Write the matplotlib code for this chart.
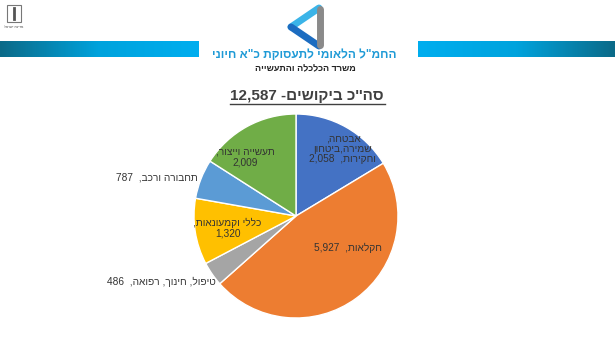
import re
import numpy as np
import matplotlib
matplotlib.use('Agg')
import matplotlib.pyplot as plt

plt.rcParams['font.family'] = ['Liberation Sans', 'DejaVu Sans']

# data
categories = ['אבטחה,\nשמירה,ביטחון\nוחקירות,  ', 'חקלאות,  ', 'טיפול, חינוך, רפואה,  ',
              'כללי וקמעונאות,\n', 'תחבורה ורכב,  ', 'תעשייה וייצור,\n']
values = [2058, 5927, 486, 1320, 787, 2009]
colors = ['#4472C4', '#ED7D31', '#A5A5A5', '#FFC000', '#5B9BD5', '#70AD47']
total = sum(values)
header_title = 'החמ"ל הלאומי לתעסוקת כ"א חיוני'
header_sub = 'משרד הכלכלה והתעשייה'
chart_title = "סה''כ ביקושים- " + format(total, ',')

# label placement (pie radius units) and alignment
label_pos = [(0.46, 0.66), (0.51, -0.31), (-0.79, -0.65), (-0.67, -0.12), (-0.96, 0.38), (-0.50, 0.58)]
label_ha = ['center', 'center', 'right', 'center', 'right', 'center']


def rtl(s):
    # crude visual ordering for hebrew text with numbers
    out = []
    for line in s.split('\n'):
        r = line[::-1]
        r = re.sub(r'[0-9][0-9,.]*[0-9]|[0-9]', lambda m: m.group(0)[::-1], r)
        out.append(r.strip())
    return '\n'.join(out)


W, H = 615, 339
fig = plt.figure(figsize=(W / 100, H / 100), dpi=100)
fig.patch.set_facecolor('white')

# header decoration in pixel coords
bg = fig.add_axes([0, 0, 1, 1])
bg.set_xlim(0, W)
bg.set_ylim(H, 0)
bg.axis('off')
grad = np.linspace(0, 1, 256).reshape(1, -1)
cmap = matplotlib.colors.LinearSegmentedColormap.from_list('bar', ['#0B6A88', '#00A3DD', '#00AEEF'])
bg.imshow(grad, cmap=cmap, extent=[0, 199, 57, 41], aspect='auto')
bg.imshow(grad[:, ::-1], cmap=cmap, extent=[418, W, 57, 41], aspect='auto')

# logo
bg.plot([319, 291], [8, 27], color='#3BB4E8', lw=5, solid_capstyle='round')
bg.plot([291, 319], [27, 46], color='#1C6CC0', lw=5, solid_capstyle='round')
bg.plot([320, 320], [9, 45], color='#8A8A8A', lw=5, solid_capstyle='round')

# emblem
bg.add_patch(plt.Rectangle((7, 5), 14, 17, fill=False, ec='#777777', lw=0.8))
bg.plot([14, 14], [8, 19], color='#555555', lw=2)
bg.text(14, 27, 'מדינת ישראל'[::-1], fontsize=2.5, ha='center', va='center', color='#444444')

bg.text(304, 55, rtl(header_title), fontsize=8.6, fontweight='bold', color='#1E9AD6',
        ha='center', va='center')
bg.text(305, 69, rtl(header_sub), fontsize=6.5, fontweight='bold', color='#222222',
        ha='center', va='center')
bg.text(307, 96, rtl(chart_title), fontsize=11, fontweight='bold', color='#404040',
        ha='center', va='center')
bg.plot([230, 385], [104, 104], color='#404040', lw=1)

# pie
cx, cy, r = 296, 216, 102
ax = fig.add_axes([(cx - r) / W, (H - cy - r) / H, 2 * r / W, 2 * r / H])
ax.pie(values, colors=colors, startangle=90, counterclock=False,
       wedgeprops=dict(edgecolor='white', linewidth=1))
ax.set_xlim(-1, 1)
ax.set_ylim(-1, 1)
ax.set_aspect('auto')
ax.axis('off')

for cat, v, (x, y), ha in zip(categories, values, label_pos, label_ha):
    ax.text(x, y, rtl(cat + format(v, ',')), fontsize=7.3, color='#333333', ha=ha,
            va='center', linespacing=1.05, multialignment='center')

fig.savefig('out.png', dpi=100)
